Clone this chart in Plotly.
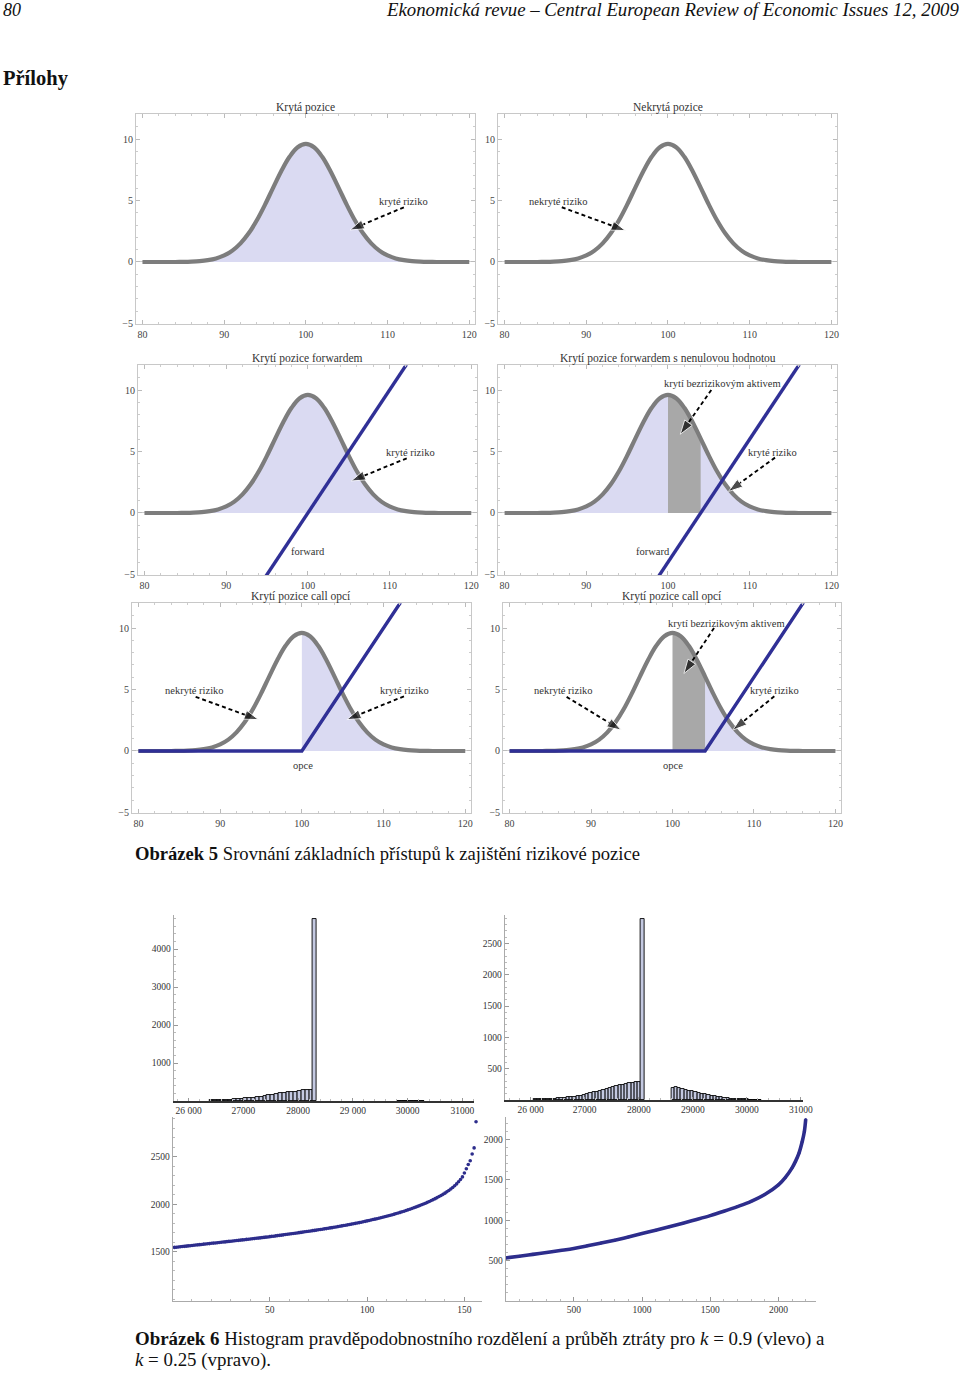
import plotly.graph_objects as go

# page coordinates (px) are expressed on a 960 x 1374 page
W, H = 960, 1374
FIG_W, FIG_H = 973, 1379
SERIF = "Liberation Serif"

# ---------------- data ----------------
curve_x = list(range(80, 121))
curve_y = [0.00, 0.00, 0.00, 0.00, 0.00, 0.01, 0.03, 0.07, 0.15, 0.29, 0.53, 0.92, 1.51, 2.33,
           3.39, 4.66, 6.05, 7.40, 8.55, 9.33, 9.60, 9.33, 8.55, 7.40, 6.05, 4.66, 3.39, 2.33,
           1.51, 0.92, 0.53, 0.29, 0.15, 0.07, 0.03, 0.01, 0.00, 0.00, 0.00, 0.00, 0.00]

panel_titles = ["Krytá pozice", "Nekrytá pozice", "Krytí pozice forwardem",
                "Krytí pozice forwardem s nenulovou hodnotou", "Krytí pozice call opcí",
                "Krytí pozice call opcí"]
# fill spans: (from, to, kind)
panel_fills = [[(80, 120, "light")], [], [(80, 120, "light")],
               [(80, 120, "light"), (100, 104, "dark")],
               [(100, 120, "light")],
               [(104, 120, "light"), (100, 104, "dark")]]
# payoff: (type, strike)
panel_payoff = [None, None, ("forward", 100), ("forward", 104), ("call", 100), ("call", 104)]
# labels: (text, x, y)
panel_labels = [
    [("kryté riziko", 111.9, 4.9)],
    [("nekryté riziko", 86.6, 4.9)],
    [("kryté riziko", 112.6, 4.9), ("forward", 100.0, -3.1)],
    [("krytí bezrizikovým aktivem", 106.7, 10.5), ("kryté riziko", 112.8, 4.9), ("forward", 98.2, -3.1)],
    [("nekryté riziko", 86.8, 4.9), ("kryté riziko", 112.6, 4.9), ("opce", 100.2, -1.2)],
    [("krytí bezrizikovým aktivem", 106.6, 10.4), ("nekryté riziko", 86.6, 4.9),
     ("kryté riziko", 112.5, 4.9), ("opce", 100.1, -1.2)],
]
# arrows: (x0, y0, x1, y1)
panel_arrows = [
    [(112.0, 4.45, 105.4, 2.6)],
    [(87.0, 4.45, 94.8, 2.55)],
    [(112.1, 4.45, 105.3, 2.6)],
    [(105.3, 10.0, 101.5, 6.4), (113.1, 4.5, 107.4, 1.75)],
    [(87.0, 4.4, 94.7, 2.55), (112.5, 4.45, 105.5, 2.55)],
    [(105.1, 10.0, 101.4, 6.3), (87.0, 4.4, 93.7, 1.7), (112.5, 4.45, 107.4, 1.7)],
]
panel_xticks = [80, 90, 100, 110, 120]
panel_yticks = [-5, 0, 5, 10]

# histogram k = 0.9
hl_width = 70
hl_edges = list(range(26380, 28271, 70)) + list(range(29820, 30241, 70))
hl_counts = [15, 15, 18, 18, 20, 38, 40, 45, 55, 70, 75, 90, 100, 110, 125, 150, 170, 185, 200,
             215, 225, 235, 250, 265, 280, 285, 285, 4790,
             12, 12, 12, 12, 12, 12, 12]
# histogram k = 0.25
hr_width = 60
hr_edges = list(range(26060, 28041, 60)) + list(range(28600, 30221, 60))
hr_counts = [12, 12, 12, 12, 13, 13, 14, 28, 30, 32, 45, 48, 55, 62, 70, 80, 95, 110, 120, 135,
             150, 165, 180, 190, 205, 220, 235, 245, 255, 265, 275, 282, 288, 2890,
             185, 200, 195, 180, 165, 150, 138, 125, 112, 100, 88, 78, 68, 58, 50, 42, 35, 28,
             22, 17, 14, 12, 10, 9, 8, 7, 6, 5]
hist_xticks = [26000, 27000, 28000, 29000, 30000, 31000]
hl_xticktext = ["26 000", "27000", "28000", "29 000", "30000", "31000"]
hr_xticktext = ["26 000", "27000", "28000", "29000", "30000", "31000"]

# loss curve k = 0.9
loss_l = [1548, 1550, 1552, 1555, 1557, 1559, 1561, 1564, 1566, 1568, 1570, 1573, 1575, 1577,
          1579, 1582, 1584, 1586, 1588, 1591, 1593, 1595, 1597, 1600, 1602, 1604, 1606, 1609,
          1611, 1613, 1615, 1618, 1620, 1622, 1625, 1627, 1629, 1632, 1634, 1636, 1639, 1641,
          1644, 1646, 1648, 1651, 1653, 1656, 1658, 1661, 1664, 1666, 1669, 1672, 1675, 1677,
          1680, 1683, 1686, 1689, 1692, 1694, 1697, 1700, 1703, 1706, 1709, 1712, 1715, 1718,
          1721, 1724, 1727, 1730, 1733, 1736, 1739, 1743, 1746, 1749, 1753, 1756, 1760, 1763,
          1767, 1770, 1774, 1778, 1781, 1785, 1789, 1793, 1797, 1801, 1805, 1809, 1813, 1818,
          1822, 1827, 1831, 1836, 1841, 1845, 1850, 1855, 1860, 1865, 1870, 1876, 1881, 1887,
          1892, 1898, 1904, 1910, 1916, 1923, 1929, 1936, 1943, 1950, 1957, 1965, 1972, 1980,
          1988, 1996, 2004, 2013, 2022, 2031, 2041, 2051, 2061, 2072, 2083, 2094, 2106, 2119,
          2133, 2147, 2162, 2178, 2196, 2216, 2238, 2262, 2290, 2330, 2375, 2420, 2460, 2530,
          2595, 2870]
loss_l_x = list(range(1, len(loss_l) + 1))
# loss curve k = 0.25 (sampled)
loss_r_x = [0, 100, 200, 300, 400, 500, 600, 700, 800, 900, 1000, 1100, 1200, 1300, 1400, 1500,
            1600, 1700, 1800, 1900, 2000, 2050, 2100, 2125, 2150, 2175, 2190, 2200]
loss_r = [533, 555, 578, 601, 625, 650, 684, 718, 754, 793, 835, 877, 920, 964, 1010, 1058,
          1112, 1170, 1235, 1320, 1440, 1530, 1650, 1730, 1830, 1980, 2100, 2250]

# ---------------- style ----------------
LIGHT = "rgba(218,218,242,1)"
DARK = "rgb(168,168,168)"
CURVE = "rgb(125,125,125)"
BLUE = "rgb(48,48,150)"
FRAME = "rgb(200,200,200)"


def dx(l, r):
    return [l / W, r / W]


def dy(t, b):
    return [1 - b / H, 1 - t / H]


fig = go.Figure()
layout = {}

panel_frames = [(135.5, 473.5, 114.4, 324.1), (496.5, 834.5, 114.4, 324.1),
                (137.5, 475.5, 365.4, 575.1), (496.5, 834.5, 365.4, 575.1),
                (131.5, 469.5, 603.4, 813.1), (501.5, 838.5, 603.4, 813.1)]
title_py = [107, 107, 358, 358, 597, 597]

annotations = []

for i in range(6):
    n = i + 1
    xa, ya = f"x{n}", f"y{n}"
    l, r, t, b = panel_frames[i]
    tickfont = dict(family=SERIF, size=10, color="#444")
    layout[f"xaxis{n}"] = dict(domain=dx(l, r), range=[79.2, 120.7], anchor=ya,
                               tickmode="array", tickvals=panel_xticks, showline=True,
                               mirror="ticks", linecolor=FRAME, linewidth=1, ticks="inside",
                               ticklen=4, tickcolor="#bbb", showgrid=False, zeroline=False,
                               tickfont=tickfont, ticklabelstandoff=1,
                               minor=dict(tickmode="linear", tick0=80, dtick=2, ticks="inside",
                                          ticklen=2, tickcolor="#ccc"))
    layout[f"yaxis{n}"] = dict(domain=dy(t, b), range=[-5.05, 12], anchor=xa,
                               tickmode="array", tickvals=panel_yticks, showline=True,
                               mirror="ticks", linecolor=FRAME, linewidth=1, ticks="inside",
                               ticklen=4, tickcolor="#bbb", showgrid=False, zeroline=True,
                               zerolinecolor="rgb(205,205,205)", zerolinewidth=1.2,
                               tickfont=tickfont,
                               minor=dict(tickmode="linear", tick0=0, dtick=1, ticks="inside",
                                          ticklen=2, tickcolor="#ccc"))
    # fills
    for lo, hi, kind in panel_fills[i]:
        xs = [x for x in curve_x if lo <= x <= hi]
        ys = [y for x, y in zip(curve_x, curve_y) if lo <= x <= hi]
        fig.add_trace(go.Scatter(x=xs, y=ys, mode="lines", line=dict(width=0, shape="spline"),
                                 fill="tozeroy", fillcolor=LIGHT if kind == "light" else DARK,
                                 xaxis=xa, yaxis=ya, hoverinfo="skip", showlegend=False))
    # density curve
    fig.add_trace(go.Scatter(x=curve_x, y=curve_y, mode="lines",
                             line=dict(color=CURVE, width=4.2, shape="spline"),
                             xaxis=xa, yaxis=ya, hoverinfo="skip", showlegend=False))
    # payoff
    if panel_payoff[i] is not None:
        kind, K = panel_payoff[i]
        if kind == "forward":
            px_ = [80, 120]
            py_ = [80 - K, 120 - K]
        else:
            px_ = [80, K, 120]
            py_ = [0, 0, 120 - K]
        fig.add_trace(go.Scatter(x=px_, y=py_, mode="lines", line=dict(color=BLUE, width=3.4),
                                 xaxis=xa, yaxis=ya, hoverinfo="skip", showlegend=False))
    # arrows
    for x0, y0, x1, y1 in panel_arrows[i]:
        fig.add_trace(go.Scatter(x=[x0, x1], y=[y0, y1], mode="lines+markers",
                                 line=dict(color="black", width=1.9, dash="4px,3px"),
                                 marker=dict(symbol="arrow", size=[0, 15], color="black",
                                             angleref="previous"),
                                 xaxis=xa, yaxis=ya, hoverinfo="skip", showlegend=False))
    for txt, x, y in panel_labels[i]:
        annotations.append(dict(text=txt, x=x, y=y, xref=xa, yref=ya, showarrow=False,
                                xanchor="center", yanchor="middle",
                                font=dict(family=SERIF, size=10.5, color="#333")))
    annotations.append(dict(text=panel_titles[i], x=(l + r) / 2 / W, y=1 - title_py[i] / H,
                            xref="paper", yref="paper", showarrow=False,
                            xanchor="center", yanchor="middle",
                            font=dict(family=SERIF, size=11.5, color="#333")))

# ---------- histograms ----------
hist_specs = [
    (7, hl_edges, hl_counts, hl_width, (173, 473, 915, 1101), [25725, 31220], [0, 4895],
     [1000, 2000, 3000, 4000], 200, hl_xticktext),
    (8, hr_edges, hr_counts, hr_width, (503, 800, 915, 1100), [25517, 31030], [0, 2955],
     [500, 1000, 1500, 2000, 2500], 100, hr_xticktext),
]
for n, edges, counts, wdt, (l, r, t, b), xr, yr, yt, ymin, xtt in hist_specs:
    xa, ya = f"x{n}", f"y{n}"
    fig.add_trace(go.Bar(x=[e + wdt / 2 for e in edges], y=counts, width=wdt,
                         marker=dict(color="rgb(196,201,225)", line=dict(color="black", width=0.9)),
                         xaxis=xa, yaxis=ya, hoverinfo="skip", showlegend=False))
    tf = dict(family=SERIF, size=9.5, color="#333")
    layout[f"xaxis{n}"] = dict(domain=dx(l, r), range=xr, anchor=ya, tickmode="array",
                               tickvals=hist_xticks, ticktext=xtt, showline=True,
                               linecolor="#333", linewidth=2, ticks="inside", ticklen=3,
                               tickcolor="#999", showgrid=False, zeroline=False, tickfont=tf,
                               minor=dict(tickmode="linear", tick0=26000, dtick=200,
                                          ticks="inside", ticklen=2, tickcolor="#bbb"))
    layout[f"yaxis{n}"] = dict(domain=dy(t, b), range=yr, anchor=xa, tickmode="array",
                               tickvals=yt, showline=True, linecolor="#aaa", linewidth=1,
                               ticks="inside", ticklen=4, tickcolor="#999", showgrid=False,
                               zeroline=False, tickfont=tf,
                               minor=dict(tickmode="linear", tick0=0, dtick=ymin,
                                          ticks="inside", ticklen=2, tickcolor="#bbb"))

# ---------- loss curves ----------
fig.add_trace(go.Scatter(x=loss_l_x, y=loss_l, mode="markers",
                         marker=dict(color="rgb(45,45,140)", size=3.6),
                         xaxis="x9", yaxis="y9", hoverinfo="skip", showlegend=False))
fig.add_trace(go.Scatter(x=loss_r_x, y=loss_r, mode="lines+markers",
                         line=dict(color="rgb(45,45,140)", width=3.6, shape="spline"),
                         marker=dict(color="rgb(45,45,140)", size=3),
                         xaxis="x10", yaxis="y10", hoverinfo="skip", showlegend=False))
scat_specs = [
    (9, (172, 480, 1117, 1301), [0, 158.8], [984, 2920], [50, 100, 150], 10,
     [1500, 2000, 2500], 100, 1000),
    (10, (504, 813, 1117, 1301), [0, 2272], [0, 2280], [500, 1000, 1500, 2000], 100,
     [500, 1000, 1500, 2000], 100, 0),
]
for n, (l, r, t, b), xr, yr, xt, xmin, yt, ymin, y0 in scat_specs:
    xa, ya = f"x{n}", f"y{n}"
    tf = dict(family=SERIF, size=9.5, color="#333")
    layout[f"xaxis{n}"] = dict(domain=dx(l, r), range=xr, anchor=ya, tickmode="array",
                               tickvals=xt, showline=True, linecolor="#aaa", linewidth=1,
                               ticks="inside", ticklen=4, tickcolor="#999", showgrid=False,
                               zeroline=False, tickfont=tf,
                               minor=dict(tickmode="linear", tick0=0, dtick=xmin,
                                          ticks="inside", ticklen=2, tickcolor="#bbb"))
    layout[f"yaxis{n}"] = dict(domain=dy(t, b), range=yr, anchor=xa, tickmode="array",
                               tickvals=yt, showline=True, linecolor="#aaa", linewidth=1,
                               ticks="inside", ticklen=4, tickcolor="#999", showgrid=False,
                               zeroline=False, tickfont=tf,
                               minor=dict(tickmode="linear", tick0=y0, dtick=ymin,
                                          ticks="inside", ticklen=2, tickcolor="#bbb"))

# ---------- page texts ----------
def page_text(txt, px, py, size, anchor="left", italic=False):
    annotations.append(dict(text=txt, x=px / W, y=1 - py / H, xref="paper", yref="paper",
                            xanchor=anchor, yanchor="middle", showarrow=False,
                            font=dict(family=SERIF, size=size, color="#111",
                                      style="italic" if italic else "normal")))


page_text("80", 1, 10, 18, italic=True)
page_text("Ekonomická revue – Central European Review of Economic Issues 12, 2009", 958, 10, 18.8,
          anchor="right", italic=True)
page_text("<b>Přílohy</b>", 1, 78, 20.5)
page_text("<b>Obrázek 5</b> Srovnání základních přístupů k zajištění rizikové pozice", 133, 853, 18.6)
page_text("<b>Obrázek 6</b> Histogram pravděpodobnostního rozdělení a průběh ztráty pro "
          "<i>k</i> = 0.9 (vlevo) a", 133, 1339, 18.9)
page_text("<i>k</i> = 0.25 (vpravo).", 133, 1360, 18.9)

fig.update_layout(width=FIG_W, height=FIG_H, autosize=False, margin=dict(l=0, r=0, t=0, b=0),
                  paper_bgcolor="white", plot_bgcolor="white", annotations=annotations,
                  showlegend=False, bargap=0, **layout)
fig.write_html("out.html",
               config={"responsive": False, "displayModeBar": False},
               post_script="document.documentElement.style.overflow='hidden';"
                           "document.body.style.margin='0';"
                           "document.body.style.overflow='hidden';")
